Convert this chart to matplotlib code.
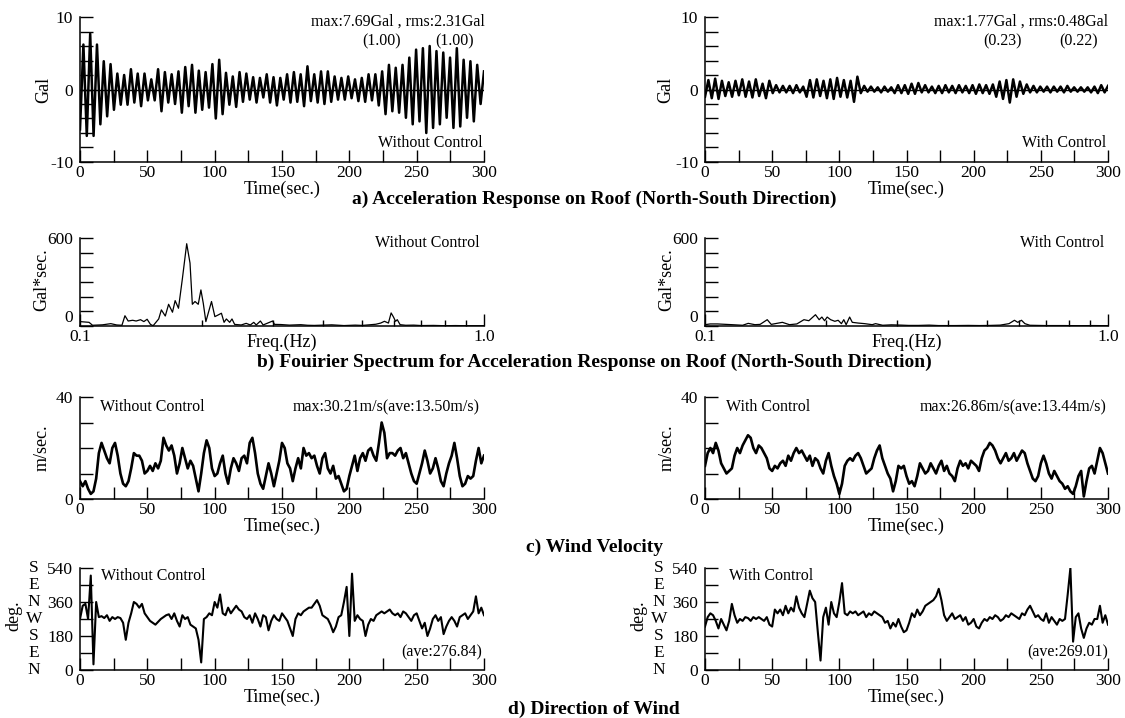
import numpy as np
import matplotlib
matplotlib.use("Agg")
import matplotlib.pyplot as plt
from matplotlib.ticker import NullFormatter

plt.rcParams['font.family'] = ['Liberation Serif', 'DejaVu Serif']

# ---- a) acceleration on roof, valley / peak of every cycle (Gal)
acc_nc_neg = [-5.5, -6.4, -6.4, -4.8, -3.7, -2.8, -2.1, -2.1, -1.8, -2.3, -1.5, -1.5,
              -3.0, -1.8, -2.0, -3.2, -2.3, -3.2, -2.8, -2.5, -4.0, -3.4, -2.1, -2.4,
              -1.7, -1.4, -1.8, -1.1, -1.8, -2.2, -1.4, -1.8, -1.7, -2.3, -1.6, -1.8,
              -2.0, -1.7, -1.4, -1.4, -1.2, -1.6, -1.7, -1.5, -2.2, -3.4, -3.0, -3.2,
              -3.9, -4.8, -4.4, -6.0, -5.3, -4.8, -3.9, -5.3, -5.1, -3.9, -4.4, -2.0]
acc_nc_pos = [6.2, 7.7, 6.2, 3.9, 3.5, 2.2, 2.0, 2.8, 2.2, 2.2, 1.4, 2.8,
              2.4, 2.1, 2.5, 3.1, 3.4, 2.6, 2.4, 3.5, 4.1, 2.3, 1.8, 2.4,
              2.2, 1.7, 1.6, 2.1, 1.7, 1.6, 2.1, 2.4, 2.1, 3.2, 2.1, 2.5,
              2.5, 1.8, 1.6, 1.8, 1.4, 1.6, 2.1, 2.1, 2.5, 3.4, 3.0, 3.4,
              4.4, 5.5, 5.7, 6.0, 5.3, 5.1, 4.4, 5.7, 4.1, 3.9, 3.4, 2.5]
acc_wc_neg = [-1.0, -1.2, -1.3, -0.9, -1.0, -0.8, -1.0, -1.1, -0.9, -1.2, -0.5, -0.4,
              -0.4, -0.5, -0.4, -1.0, -1.1, -0.9, -1.2, -1.3, -1.0, -1.1, -1.7, -0.5,
              -0.3, -0.3, -0.4, -0.3, -0.5, -0.5, -0.6, -0.6, -0.4, -0.4, -0.5, -0.5,
              -0.4, -0.5, -0.4, -0.5, -0.6, -0.5, -0.6, -1.0, -1.3, -1.8, -1.0, -0.6,
              -0.4, -0.4, -0.3, -0.4, -0.3, -0.4, -0.3, -0.3, -0.3, -0.4, -0.5, -0.4]
acc_wc_pos = [1.3, 1.5, 1.2, 1.0, 1.2, 1.4, 1.1, 1.4, 0.8, 1.2, 0.6, 0.5,
              0.5, 0.6, 0.4, 1.3, 1.4, 1.2, 1.4, 1.6, 1.3, 1.2, 1.77, 0.5,
              0.4, 0.3, 0.4, 0.3, 0.6, 0.6, 0.8, 0.9, 0.6, 0.4, 0.5, 0.6,
              0.5, 0.6, 0.5, 0.6, 0.7, 0.6, 0.7, 1.1, 1.3, 1.4, 1.1, 0.7,
              0.5, 0.4, 0.4, 0.4, 0.4, 0.5, 0.3, 0.3, 0.3, 0.4, 0.6, 0.5]

# ---- b) fourier spectrum (Gal*sec)
spec_nc_f = [0.100, 0.1053, 0.1074, 0.1137, 0.1192, 0.1233, 0.127, 0.1292, 0.1316, 0.135,
             0.1377, 0.1412, 0.1439, 0.1466, 0.1494, 0.1517, 0.1566, 0.159, 0.1626, 0.1657,
             0.1694, 0.172, 0.1753, 0.1793, 0.1837, 0.1872, 0.1897, 0.1926, 0.1962, 0.1992,
             0.2019, 0.2049, 0.2116, 0.2157, 0.2197, 0.2239, 0.2273, 0.2303, 0.2347, 0.2378,
             0.2414, 0.2506, 0.2578, 0.264, 0.2692, 0.273, 0.2796, 0.284, 0.2998, 0.303,
             0.314, 0.33, 0.352, 0.366, 0.38, 0.40, 0.42, 0.45, 0.48, 0.50,
             0.52, 0.54, 0.555, 0.567, 0.58, 0.589, 0.597, 0.604, 0.61, 0.62,
             0.64, 0.67, 0.70, 0.75, 0.80, 0.85, 0.90, 0.95, 1.0]
spec_nc_v = [30, 25, 5, 8, 16, 7, 5, 70, 34, 39,
             34, 43, 30, 46, 11, 2, 48, 110, 68, 148,
             94, 173, 121, 326, 561, 429, 148, 167, 148, 246,
             155, 30, 167, 64, 75, 87, 25, 48, 25, 48,
             11, 7, 18, 7, 25, 7, 34, 7, 34, 11,
             10, 6, 9, 5, 4, 6, 8, 3, 6, 4,
             8, 12, 20, 32, 20, 89, 61, 32, 43, 9,
             5, 6, 3, 4, 2, 3, 2, 2, 2]
spec_wc_f = [0.100, 0.103, 0.1074, 0.1167, 0.124, 0.128, 0.133, 0.137, 0.1427, 0.146,
             0.1556, 0.162, 0.169, 0.176, 0.181, 0.188, 0.192, 0.195, 0.198, 0.201,
             0.205, 0.21, 0.214, 0.218, 0.221, 0.224, 0.2285, 0.232, 0.24, 0.249,
             0.26, 0.265, 0.276, 0.29, 0.307, 0.32, 0.339, 0.36, 0.38, 0.417,
             0.45, 0.48, 0.51, 0.54, 0.568, 0.586, 0.597, 0.61, 0.622, 0.64,
             0.70, 0.78, 0.85, 0.92, 1.0]
spec_wc_v = [9, 14, 14, 9, 5, 18, 9, 11, 43, 11,
             25, 9, 14, 43, 36, 77, 43, 61, 36, 61,
             43, 32, 39, 16, 43, 9, 61, 25, 20, 16,
             9, 16, 5, 8, 6, 4, 4, 6, 3, 3,
             4, 3, 4, 6, 16, 39, 25, 39, 16, 5,
             3, 3, 2, 3, 2]

# ---- c) wind velocity every 2 sec (m/s)
wind_nc = [7, 5, 7, 4, 2, 3, 8, 18, 22, 19,
           16, 14, 20, 22, 17, 10, 6, 5, 7, 12,
           18, 17, 17, 15, 10, 11, 13, 11, 14, 12,
           15, 24, 21, 19, 21, 17, 10, 14, 20, 16,
           12, 15, 13, 8, 3, 10, 18, 23, 20, 12,
           9, 10, 14, 17, 10, 6, 12, 16, 14, 11,
           16, 17, 14, 22, 24, 18, 10, 6, 4, 9,
           14, 10, 5, 10, 15, 22, 20, 14, 12, 7,
           12, 16, 12, 20, 17, 18, 16, 17, 13, 10,
           16, 18, 12, 10, 13, 8, 9, 6, 3, 4,
           9, 13, 17, 11, 16, 18, 15, 19, 20, 17,
           15, 22, 30, 26, 16, 18, 18, 17, 19, 20,
           16, 18, 14, 10, 7, 6, 10, 14, 19, 15,
           10, 12, 16, 12, 7, 5, 10, 14, 17, 22,
           16, 9, 5, 6, 9, 8, 9, 15, 20, 14,
           17]
wind_wc = [13, 18, 20, 18, 22, 19, 14, 12, 10, 11,
           12, 17, 20, 18, 21, 23, 25, 24, 20, 18,
           21, 20, 18, 16, 12, 11, 13, 12, 14, 15,
           13, 17, 15, 18, 20, 18, 19, 17, 15, 17,
           13, 16, 15, 12, 10, 15, 18, 13, 9, 6,
           2, 6, 13, 15, 16, 15, 17, 18, 16, 13,
           10, 11, 12, 16, 19, 21, 16, 13, 10, 8,
           3, 7, 13, 12, 13, 9, 6, 7, 5, 9,
           14, 12, 10, 11, 14, 12, 10, 13, 15, 11,
           13, 10, 9, 7, 12, 15, 13, 14, 12, 15,
           14, 13, 11, 16, 19, 20, 22, 21, 19, 16,
           14, 16, 18, 15, 16, 18, 15, 17, 19, 18,
           14, 11, 8, 7, 9, 14, 17, 14, 10, 8,
           11, 9, 7, 6, 4, 5, 3, 2, 5, 9,
           11, 1, 7, 12, 13, 10, 15, 20, 18, 14,
           10]

# ---- d) wind direction every 2 sec (deg)
dir_nc = [270, 340, 350, 270, 500, 30, 360, 280, 285, 275,
          290, 260, 280, 270, 280, 275, 250, 160, 250, 300,
          360, 350, 330, 350, 300, 280, 260, 250, 240, 255,
          270, 280, 290, 295, 270, 300, 260, 230, 290, 270,
          280, 240, 230, 220, 160, 40, 270, 280, 300, 290,
          360, 330, 400, 300, 290, 330, 300, 320, 340, 320,
          310, 280, 270, 290, 250, 300, 270, 230, 290, 280,
          210, 260, 290, 270, 260, 300, 280, 260, 220, 180,
          270, 300, 290, 310, 320, 330, 330, 350, 370, 340,
          290, 280, 270, 240, 200, 230, 280, 290, 360, 440,
          180, 510, 260, 290, 270, 260, 180, 240, 270, 260,
          290, 300, 310, 300, 310, 320, 300, 290, 300, 280,
          310, 300, 280, 260, 290, 300, 260, 220, 250, 180,
          220, 270, 290, 260, 280, 190, 230, 260, 280, 260,
          230, 280, 290, 300, 270, 290, 310, 390, 300, 330,
          290]
dir_wc = [230, 280, 300, 290, 260, 220, 270, 240, 210, 260,
          350, 290, 250, 270, 260, 280, 275, 260, 280, 270,
          280, 270, 260, 280, 240, 230, 320, 300, 320, 290,
          340, 300, 330, 310, 390, 330, 300, 280, 350, 420,
          380, 360, 200, 50, 280, 330, 240, 360, 300, 280,
          360, 460, 300, 290, 310, 300, 310, 290, 300, 310,
          280, 300, 290, 310, 300, 290, 280, 250, 260, 220,
          250, 230, 270, 230, 200, 210, 250, 300, 280, 320,
          290, 310, 340, 350, 360, 370, 390, 430, 370, 290,
          260, 280, 300, 270, 280, 290, 260, 280, 240, 250,
          270, 230, 220, 250, 270, 260, 280, 270, 290, 280,
          260, 270, 290, 280, 300, 290, 280, 270, 300, 290,
          320, 340, 310, 280, 290, 270, 260, 300, 250, 280,
          260, 240, 270, 260, 270, 400, 540, 150, 280, 300,
          220, 170, 220, 250, 240, 270, 270, 340, 250, 290,
          240]

time_ticks = [0, 25, 50, 75, 100, 125, 150, 175, 200, 225, 250, 275, 300]
time_labels = ['0', '', '50', '', '100', '', '150', '', '200', '', '250', '', '300']
compass = ['N', 'E', 'S', 'W', 'N', 'E', 'S']

W, H = 1125, 718
fig = plt.figure(figsize=(W / 100, H / 100), dpi=100)
FS = 11.5    # annotations
TK = 12.5    # tick labels
LS = 13      # axis labels


def ftext(x, y, s, **kw):
    kw.setdefault('fontsize', FS)
    fig.text(x / W, 1 - y / H, s, va='center', **kw)


def make_ax(x0, y0, x1, y1):
    ax = fig.add_axes([x0 / W, 1 - y1 / H, (x1 - x0) / W, (y1 - y0) / H])
    ax.spines[['top', 'right']].set_visible(False)
    ax.spines[['left', 'bottom']].set_linewidth(1.1)
    ax.tick_params(direction='in', length=9, width=1.0, labelsize=TK, pad=2)
    ax.tick_params(axis='y', pad=5)
    return ax


def time_axis(ax):
    ax.set_xlim(0, 300)
    ax.set_xticks(time_ticks, time_labels)
    ax.set_xlabel('Time(sec.)', fontsize=LS, labelpad=0)


LX0, LX1 = 80, 484
RX0, RX1 = 705, 1108
cols = [(LX0, LX1), (RX0, RX1)]

# ---- row a
t_acc = np.linspace(0, 300, 120)
acc_sets = [(acc_nc_neg, acc_nc_pos), (acc_wc_neg, acc_wc_pos)]
for (x0, x1), (neg, pos) in zip(cols, acc_sets):
    ax = make_ax(x0, 17, x1, 162)
    ax.plot(t_acc, np.column_stack([neg, pos]).ravel(), color='black', lw=1.8)
    ax.axhline(0, color='black', lw=1.0)
    time_axis(ax)
    ax.set_ylim(-10, 10)
    ax.set_yticks(np.arange(-10, 10.1, 2),
                  ['-10', '', '', '', '', '0', '', '', '', '', '10'])

ftext(485, 22, 'max:7.69Gal , rms:2.31Gal', ha='right')
ftext(382, 41, '(1.00)', ha='center')
ftext(455, 41, '(1.00)', ha='center')
ftext(483, 143, 'Without Control', ha='right')
ftext(1108, 22, 'max:1.77Gal , rms:0.48Gal', ha='right')
ftext(1003, 41, '(0.23)', ha='center')
ftext(1079, 41, '(0.22)', ha='center')
ftext(1106, 143, 'With Control', ha='right')
ftext(44, 90, 'Gal', ha='center', rotation=90, fontsize=LS)
ftext(666, 90, 'Gal', ha='center', rotation=90, fontsize=LS)

# ---- row b
spec_sets = [(spec_nc_f, spec_nc_v), (spec_wc_f, spec_wc_v)]
for (x0, x1), (f, v) in zip(cols, spec_sets):
    ax = make_ax(x0, 238, x1, 326)
    ax.plot(f, v, color='black', lw=0.9)
    ax.set_xscale('log')
    ax.set_xlim(0.1, 1.0)
    ax.set_ylim(0, 600)
    ax.set_xticks([0.1, 1.0], ['0.1', '1.0'])
    ax.set_xticks([0.2, 0.3, 0.4, 0.5, 0.6, 0.7, 0.8, 0.9], minor=True)
    ax.xaxis.set_minor_formatter(NullFormatter())
    ax.tick_params(axis='x', which='minor', direction='in', length=4, width=1.0)
    ax.set_yticks(np.arange(0, 601, 100), ['0', '', '', '', '', '', '600'])
    ax.get_yticklabels()[0].set_verticalalignment('bottom')
    ax.set_xlabel('Freq.(Hz)', fontsize=LS, labelpad=-8)

ftext(480, 243, 'Without Control', ha='right')
ftext(1104, 243, 'With Control', ha='right')
ftext(42, 280, 'Gal*sec.', ha='center', rotation=90, fontsize=LS)
ftext(667, 280, 'Gal*sec.', ha='center', rotation=90, fontsize=LS)

# ---- row c
t_two = np.arange(0, 301, 2)
for (x0, x1), w in zip(cols, [wind_nc, wind_wc]):
    ax = make_ax(x0, 397, x1, 499)
    ax.plot(t_two, w, color='black', lw=1.9)
    time_axis(ax)
    ax.set_ylim(0, 40)
    ax.set_yticks([0, 10, 20, 30, 40], ['0', '', '', '', '40'])

ftext(100, 407, 'Without Control', ha='left')
ftext(480, 407, 'max:30.21m/s(ave:13.50m/s)', ha='right')
ftext(726, 407, 'With Control', ha='left')
ftext(1107, 407, 'max:26.86m/s(ave:13.44m/s)', ha='right')
ftext(42, 448, 'm/sec.', ha='center', rotation=90, fontsize=LS)
ftext(667, 448, 'm/sec.', ha='center', rotation=90, fontsize=LS)

# ---- row d
for (x0, x1), d in zip(cols, [dir_nc, dir_wc]):
    ax = make_ax(x0, 568, x1, 670)
    ax.plot(t_two, d, color='black', lw=1.5)
    time_axis(ax)
    ax.set_ylim(0, 540)
    ax.set_yticks(np.arange(0, 541, 90), ['0', '', '180', '', '360', '', '540'])
    for k, c in enumerate(compass):
        ax.text(-46 / (x1 - x0), k * 90, c, transform=ax.get_yaxis_transform(),
                ha='center', va='center', fontsize=TK)

ftext(101, 576, 'Without Control', ha='left')
ftext(482, 652, '(ave:276.84)', ha='right')
ftext(729, 576, 'With Control', ha='left')
ftext(1108, 652, '(ave:269.01)', ha='right')
ftext(14, 616, 'deg.', ha='center', rotation=90, fontsize=LS)
ftext(639, 616, 'deg.', ha='center', rotation=90, fontsize=LS)

# ---- section titles
TS = 14
ftext(594, 199, 'a) Acceleration Response on Roof (North-South Direction)',
      ha='center', fontsize=TS, fontweight='bold')
ftext(594, 362, 'b) Fouirier Spectrum for Acceleration Response on Roof (North-South Direction)',
      ha='center', fontsize=TS, fontweight='bold')
ftext(594, 547, 'c) Wind Velocity', ha='center', fontsize=TS, fontweight='bold')
ftext(594, 709, 'd) Direction of Wind', ha='center', fontsize=TS, fontweight='bold')

fig.savefig('out.png', dpi=100)
